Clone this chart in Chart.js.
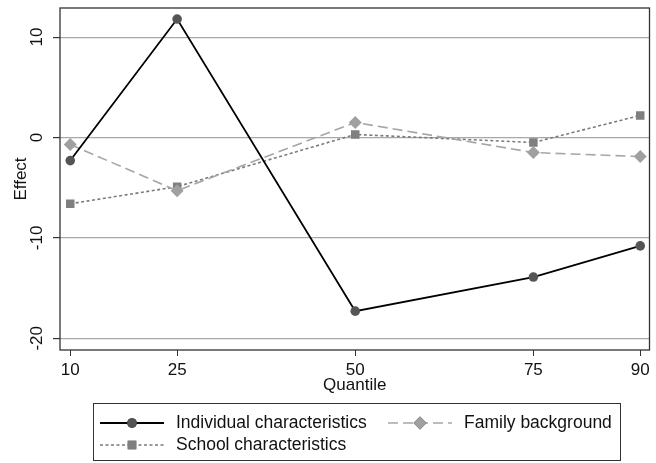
<!DOCTYPE html>
<html>
<head>
<meta charset="utf-8">
<script src="https://cdn.jsdelivr.net/npm/chart.js@4"></script>
<style>
  body { margin: 0; background: #fff; }
  #wrap { width: 656px; height: 463px; }
</style>
</head>
<body>
<div id="wrap"><canvas id="quantile-chart" width="656" height="463"></canvas></div>
<script>
const quantiles = [10, 25, 50, 75, 90];
const individual = [-2.3, 11.8, -17.3, -13.9, -10.8];
const family = [-0.7, -5.3, 1.5, -1.5, -1.9];
const school = [-6.6, -4.9, 0.3, -0.5, 2.2];
const yTicks = [10, 0, -10, -20];
const seriesNames = ['Individual characteristics', 'Family background', 'School characteristics'];

const FONT = '"Liberation Sans", Arial, sans-serif';

const toPoints = (vals) => quantiles.map((q, i) => ({ x: q, y: vals[i] }));

const data = {
  datasets: [{
    label: seriesNames[0],
    data: toPoints(individual),
    borderColor: '#000',
    borderWidth: 1.8,
    pointStyle: 'circle',
    pointRadius: 4.8,
    pointBackgroundColor: '#555',
    pointBorderWidth: 0,
    order: 1,
  }, {
    label: seriesNames[1],
    data: toPoints(family),
    borderColor: '#a6a6a6',
    borderWidth: 1.6,
    borderDash: [10, 5],
    pointStyle: 'rectRot',
    pointRadius: 6.5,
    pointBackgroundColor: '#a0a0a0',
    pointBorderWidth: 0,
    order: 2,
  }, {
    label: seriesNames[2],
    data: toPoints(school),
    borderColor: '#7a7a7a',
    borderWidth: 1.6,
    borderDash: [3, 2.5],
    pointStyle: 'rect',
    pointRadius: 6,
    pointBackgroundColor: '#7f7f7f',
    pointBorderWidth: 0,
    order: 3,
  }]
};

// frame, rotated y labels, axis titles and the stata-like legend
const decor = {
  id: 'decor',
  afterDraw(chart) {
    const ctx = chart.ctx;
    const a = chart.chartArea;
    const ys = chart.scales.y;
    ctx.save();
    ctx.strokeStyle = '#333';
    ctx.lineWidth = 1.3;
    ctx.strokeRect(a.left, a.top, a.right - a.left, a.bottom - a.top);

    ctx.fillStyle = '#111';
    ctx.font = '17px ' + FONT;
    ctx.textAlign = 'center';
    ctx.textBaseline = 'middle';
    yTicks.forEach(v => {
      ctx.save();
      ctx.translate(37, ys.getPixelForValue(v));
      ctx.rotate(-Math.PI / 2);
      ctx.fillText(String(v), 0, 0);
      ctx.restore();
    });
    ctx.save();
    ctx.translate(21, (a.top + a.bottom) / 2);
    ctx.rotate(-Math.PI / 2);
    ctx.fillText('Effect', 0, 0);
    ctx.restore();
    ctx.fillText('Quantile', (a.left + a.right) / 2, 385);

    // legend
    ctx.font = '17.5px ' + FONT;
    ctx.strokeStyle = '#333';
    ctx.lineWidth = 1;
    ctx.strokeRect(93.5, 403.5, 527, 57);
    const entries = [
      { ds: 0, x: 100, y: 423 },
      { ds: 1, x: 388, y: 423 },
      { ds: 2, x: 100, y: 445 },
    ];
    entries.forEach(e => {
      const d = chart.data.datasets[e.ds];
      ctx.save();
      ctx.strokeStyle = d.borderColor;
      ctx.lineWidth = d.borderWidth;
      ctx.setLineDash(d.borderDash || []);
      ctx.beginPath();
      ctx.moveTo(e.x, e.y);
      ctx.lineTo(e.x + 64, e.y);
      ctx.stroke();
      ctx.restore();
      Chart.helpers.drawPoint(ctx, {
        pointStyle: d.pointStyle, radius: d.pointRadius, rotation: 0, borderWidth: 0
      }, e.x + 32, e.y);
      ctx.fillStyle = d.pointBackgroundColor;
      ctx.fill();
      ctx.fillStyle = '#111';
      ctx.textAlign = 'left';
      ctx.fillText(d.label, e.x + 76, e.y);
    });
    ctx.restore();
  }
};

const config = {
  type: 'line',
  data: data,
  options: {
    responsive: false,
    animation: false,
    layout: { padding: { top: 8, right: 4, left: 0, bottom: 0 } },
    scales: {
      x: {
        type: 'linear',
        min: 8.56,
        max: 91.3,
        afterBuildTicks: (s) => { s.ticks = quantiles.map(v => ({ value: v })); },
        afterFit: (s) => { s.height = 113; },
        border: { display: false },
        grid: { drawOnChartArea: false, drawTicks: true, tickLength: 6, color: '#333' },
        ticks: { color: '#111', font: { family: FONT, size: 17 }, padding: 4, maxRotation: 0 },
      },
      y: {
        min: -21.17,
        max: 12.9,
        afterBuildTicks: (s) => { s.ticks = yTicks.map(v => ({ value: v })); },
        afterFit: (s) => { s.width = 60; },
        border: { display: false },
        grid: { color: '#a8a8a8', lineWidth: 1.2, drawTicks: true, tickLength: 7, tickColor: '#333' },
        ticks: { display: false },
      }
    },
    plugins: {
      legend: { display: false },
      tooltip: { enabled: false },
    }
  },
  plugins: [decor]
};

const myChart = new Chart(document.getElementById('quantile-chart'), config);
</script>
</body>
</html>
